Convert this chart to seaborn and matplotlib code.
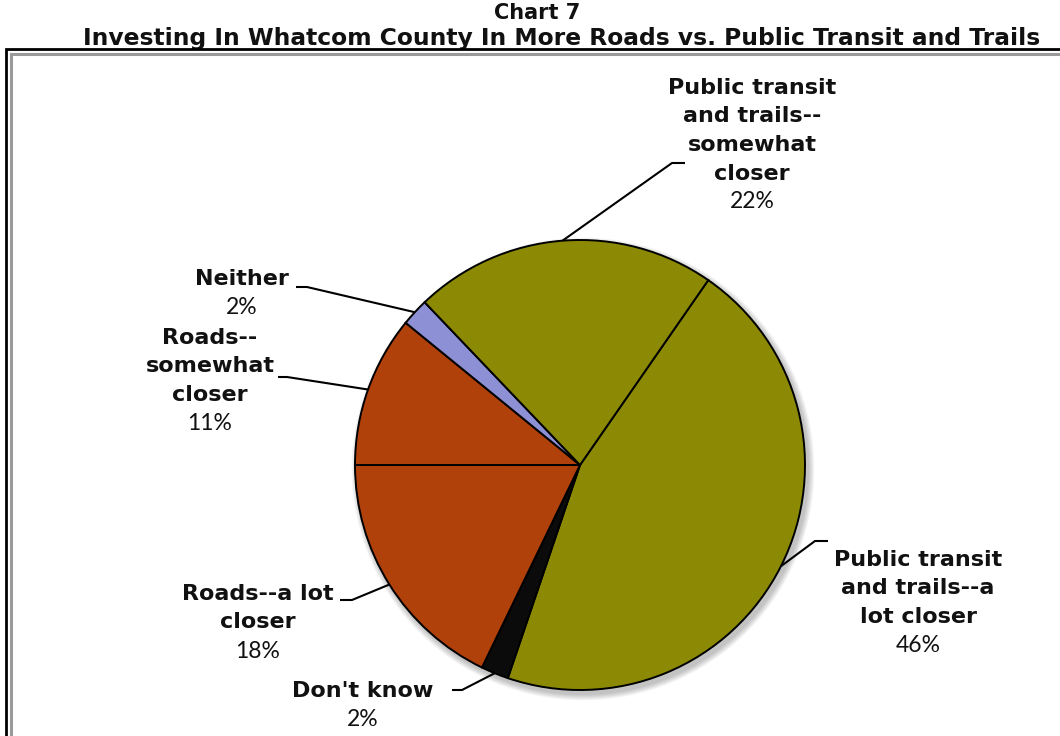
import numpy as np
import matplotlib
matplotlib.use("Agg")
import matplotlib.pyplot as plt
from matplotlib.patches import Circle
import seaborn as sns

# Survey shares, in the order the wedges run clockwise
categories = [
    "Public transit\nand trails--a\nlot closer",
    "Don't know",
    "Roads--a lot\ncloser",
    "Roads--\nsomewhat\ncloser",
    "Neither",
    "Public transit\nand trails--\nsomewhat\ncloser",
]
shares = [46, 2, 18, 11, 2, 22]
pct_labels = [f"{v}%" for v in shares]
title_lines = ["Chart 7",
               "Investing In Whatcom County In More Roads vs. Public Transit and Trails"]

olive, rust, lav, ink = "#8C8A04", "#B0410A", "#8E90D6", "#0B0B0B"
colors = [olive, ink, rust, rust, lav, olive]

sns.set_theme(style="white")
plt.rcParams["font.family"] = ["DejaVu Sans"]

W, H = 1060, 736
fig = plt.figure(figsize=(W / 100, H / 100), dpi=100)
fig.patch.set_facecolor("white")
ax = fig.add_axes([0, 0, 1, 1])


def P(x, y):
    """Pixel position (from top-left) to axes data coordinates."""
    return x, H - y


cx, cy = P(580, 465)
R = 225

# soft drop shadow under the pie
for k in range(7):
    ax.add_patch(Circle((cx + 3, cy - 4), R + 1 + k * 0.9, facecolor="black",
                        edgecolor="none", alpha=0.035, zorder=1))

wedges, _ = ax.pie(shares, colors=colors, startangle=55.25, counterclock=False,
                   center=(cx, cy), radius=R,
                   wedgeprops=dict(edgecolor="black", linewidth=1.4, zorder=2))
for w in wedges:
    w.set_zorder(2)

ax.set_xlim(0, W)
ax.set_ylim(0, H)
ax.set_aspect("auto")
ax.set_axis_off()

# label blocks: text centre x, first-line y, elbow point, end of leader
layout = [
    dict(x=918, y0=560, elbow=(815, 541), end=(828, 541)),
    dict(x=363, y0=691, elbow=(462, 690), end=(452, 690)),
    dict(x=258, y0=594, elbow=(352, 600), end=(340, 600)),
    dict(x=210, y0=338, elbow=(287, 377), end=(278, 377)),
    dict(x=242, y0=279, elbow=(307, 287), end=(296, 287)),
    dict(x=752, y0=88, elbow=(672, 163), end=(685, 163)),
]
step = 28.5
bold_kw = dict(fontsize=16, fontweight="bold", color="#111111",
               family=["DejaVu Sans"], ha="center", va="center")
pct_kw = dict(fontsize=16.5, color="#111111", family=["Lato", "DejaVu Sans"],
              ha="center", va="center")

for w, lab, pct, L in zip(wedges, categories, pct_labels, layout):
    lines = lab.split("\n")
    for i, ln in enumerate(lines):
        ax.text(*P(L["x"], L["y0"] + i * step), ln, **bold_kw)
    ax.text(*P(L["x"], L["y0"] + len(lines) * step), pct, **pct_kw)
    mid = np.deg2rad((w.theta1 + w.theta2) / 2)
    ex, ey = cx + R * np.cos(mid), cy + R * np.sin(mid)
    bx, by = P(*L["elbow"])
    tx, ty = P(*L["end"])
    ax.plot([ex, bx, tx], [ey, by, ty], color="black", lw=1.5,
            solid_capstyle="butt", zorder=3)

# titles
ax.text(*P(537, 13), title_lines[0], fontsize=15, fontweight="bold",
        ha="center", va="center", color="#111111")
ax.text(*P(562, 38), title_lines[1], fontsize=16.8, fontweight="bold",
        ha="center", va="center", color="#111111")

# double border around the chart area
fy, fx = 49, 6
ax.plot([fx, fx, W + 5], [-5, H - fy, H - fy], color="black", lw=2.0,
        solid_joinstyle="miter", zorder=4)
ax.plot([fx + 4.5, fx + 4.5, W + 5], [-5, H - fy - 4.5, H - fy - 4.5],
        color="#9A9A9A", lw=2.2, solid_joinstyle="miter", zorder=4)

fig.savefig("out.png", dpi=100, facecolor="white")
